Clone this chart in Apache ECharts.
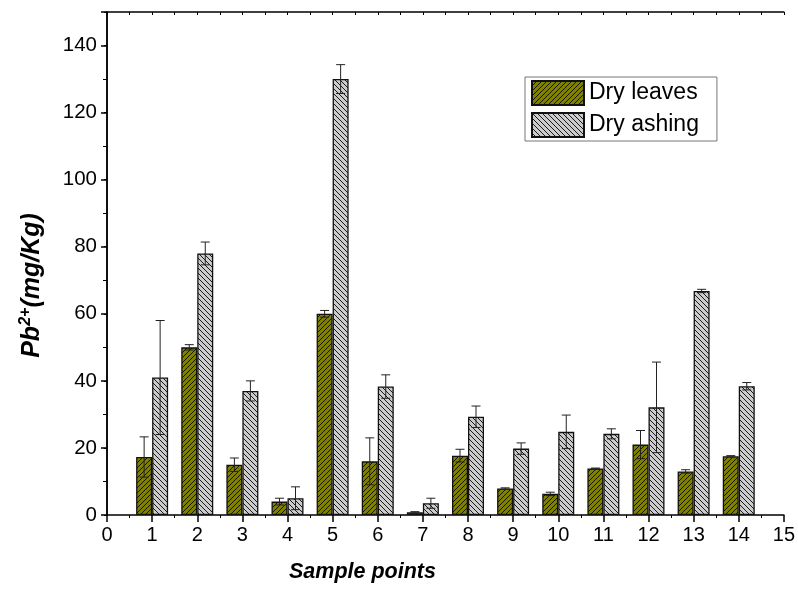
<!DOCTYPE html>
<html>
<head>
<meta charset="utf-8">
<script src="https://cdn.jsdelivr.net/npm/echarts@6/dist/echarts.min.js"></script>
<style>
html,body{margin:0;padding:0;background:#fff;}
#chart{width:798px;height:597px;}
</style>
</head>
<body>
<div id="chart"></div>
<script>
// ---- data ----
const samplePoints = [1,2,3,4,5,6,7,8,9,10,11,12,13,14];
const dryLeaves    = [17.3,50.0,15.0,4.0,60.0,16.0,0.8,17.7,7.9,6.3,13.9,21.0,13.0,17.5];
const dryLeavesErr = [6.0,0.8,2.0,1.0,1.0,7.0,0.2,1.9,0.2,0.5,0.1,4.2,0.5,0.2];
const dryAshing    = [41.0,78.0,37.0,5.0,130.0,38.3,3.5,29.3,19.8,24.8,24.2,32.1,66.8,38.4];
const dryAshingErr = [17.0,3.4,3.0,3.4,4.3,3.5,1.5,3.2,1.7,5.0,1.5,13.5,0.5,1.1];
const xTicks = [0,15,1];
const yTicks = [0,150,20];

function hatch(bg, fg, dir) {
  const p = 5;
  const c = document.createElement('canvas');
  c.width = p; c.height = p;
  const g = c.getContext('2d');
  g.fillStyle = bg; g.fillRect(0,0,p,p);
  g.strokeStyle = fg; g.lineWidth = 1;
  g.beginPath();
  if (dir === '/') {
    g.moveTo(-1, p+1); g.lineTo(p+1, -1);
    g.moveTo(-1, 1); g.lineTo(1, -1);
    g.moveTo(p-1, p+1); g.lineTo(p+1, p-1);
  } else {
    g.moveTo(-1, -1); g.lineTo(p+1, p+1);
    g.moveTo(-1, p-1); g.lineTo(1, p+1);
    g.moveTo(p-1, -1); g.lineTo(p+1, 1);
  }
  g.stroke();
  return { image: c, repeat: 'repeat' };
}
const leavesFill = hatch('#808000', '#151500', '/');
const ashingFill = hatch('#cccccc', '#1a1a1a', '\\');

const chart = echarts.init(document.getElementById('chart'), null, {renderer: 'canvas'});

function errItem(offset) {
  return function (params, api) {
    const x = api.value(0), v = api.value(1), e = api.value(2);
    const top = api.coord([x, v + e]);
    const bot = api.coord([x, Math.max(v - e, 0)]);
    const cx = top[0] + offset;
    const cap = 4.5;
    const st = { stroke: '#222', lineWidth: 1 };
    return {
      type: 'group',
      children: [
        { type: 'line', shape: { x1: cx, y1: top[1], x2: cx, y2: bot[1] }, style: st },
        { type: 'line', shape: { x1: cx - cap, y1: top[1], x2: cx + cap, y2: top[1] }, style: st },
        { type: 'line', shape: { x1: cx - cap, y1: bot[1], x2: cx + cap, y2: bot[1] }, style: st }
      ]
    };
  };
}

const font = 'Liberation Sans, Arial, sans-serif';

chart.setOption({
  animation: false,
  backgroundColor: '#fff',
  textStyle: { fontFamily: font },
  grid: { left: 107, right: 13, top: 12, bottom: 82, containLabel: false },
  title: {
    text: 'Sample points',
    left: 284, top: 556,
    textStyle: { fontFamily: font, fontSize: 21.5, fontWeight: 'bold', fontStyle: 'italic', color: '#000' }
  },
  legend: {
    orient: 'vertical',
    left: 525, top: 77,
    data: ['Dry leaves', 'Dry ashing'],
    icon: 'rect',
    itemWidth: 52, itemHeight: 24, itemGap: 6,
    padding: [3, 18, 3, 6],
    borderColor: '#777', borderWidth: 1,
    textStyle: { fontFamily: font, fontSize: 23, color: '#000' }
  },
  xAxis: [{
    type: 'value', min: xTicks[0], max: xTicks[1], interval: xTicks[2],
    axisLine: { show: true, onZero: false, lineStyle: { color: '#000', width: 1.5 } },
    axisTick: { show: true, inside: false, length: 7, lineStyle: { color: '#000', width: 1.5 } },
    minorTick: { show: true, splitNumber: 2, length: 3, lineStyle: { color: '#000' } },
    axisLabel: { fontFamily: font, fontSize: 20, color: '#000', margin: 10 },
    splitLine: { show: false }
  }, {
    type: 'value', position: 'top', min: xTicks[0], max: xTicks[1], interval: 0.5,
    axisLine: { show: true, onZero: false, lineStyle: { color: '#000', width: 1.5 } },
    axisTick: { show: true, inside: true, length: 3, lineStyle: { color: '#000' } },
    axisLabel: { show: false }, splitLine: { show: false }
  }],
  yAxis: [{
    type: 'value', min: yTicks[0], max: yTicks[1], interval: yTicks[2],
    name: '{b|Pb}{s|2+}{b|(mg/Kg)}',
    nameLocation: 'middle', nameGap: 60, nameRotate: 90,
    nameTextStyle: {
      padding: [0, 44, 0, 0],
      rich: {
        b: { fontFamily: font, fontSize: 25, fontWeight: 'bold', fontStyle: 'italic', color: '#000' },
        s: { fontFamily: font, fontSize: 16, fontWeight: 'bold', fontStyle: 'italic', color: '#000', padding: [0,0,13,0] }
      }
    },
    axisLine: { show: true, lineStyle: { color: '#000', width: 1.5 } },
    axisTick: { show: true, inside: false, length: 6, lineStyle: { color: '#000', width: 1.5 } },
    minorTick: { show: true, splitNumber: 2, length: 4, lineStyle: { color: '#000' } },
    axisLabel: { fontFamily: font, fontSize: 20.5, color: '#000', margin: 10, showMaxLabel: false },
    splitLine: { show: false }
  }, {
    type: 'value', position: 'right', min: yTicks[0], max: yTicks[1], interval: 10,
    axisLine: { show: true, lineStyle: { color: '#000', width: 1.5 } },
    axisTick: { show: true, inside: true, length: 3, lineStyle: { color: '#000' } },
    axisLabel: { show: false }, splitLine: { show: false }
  }],
  series: [{
    name: 'Dry leaves', type: 'bar',
    xAxisIndex: 0, yAxisIndex: 0,
    barWidth: 16, barGap: '0%',
    itemStyle: { color: leavesFill, borderColor: '#111', borderWidth: 1.3 },
    data: samplePoints.map((x, i) => [x, dryLeaves[i]])
  }, {
    name: 'Dry ashing', type: 'bar',
    xAxisIndex: 0, yAxisIndex: 0,
    barWidth: 16, barGap: '0%',
    itemStyle: { color: ashingFill, borderColor: '#111', borderWidth: 1.3 },
    data: samplePoints.map((x, i) => [x, dryAshing[i]])
  }, {
    name: 'errLeaves', type: 'custom', xAxisIndex: 0, yAxisIndex: 0, z: 10,
    renderItem: errItem(-8), clip: false,
    data: samplePoints.map((x, i) => [x, dryLeaves[i], dryLeavesErr[i]])
  }, {
    name: 'errAshing', type: 'custom', xAxisIndex: 0, yAxisIndex: 0, z: 10,
    renderItem: errItem(8), clip: false,
    data: samplePoints.map((x, i) => [x, dryAshing[i], dryAshingErr[i]])
  }]
});
</script>
</body>
</html>
